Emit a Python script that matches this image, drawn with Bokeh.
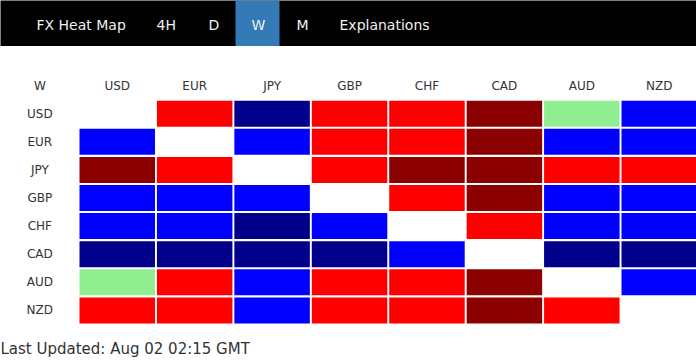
from bokeh.plotting import figure
from bokeh.models import Range1d, FactorRange, ColumnDataSource
from bokeh.layouts import column
from bokeh.core.properties import value
from bokeh.embed import file_html
from bokeh.resources import INLINE

# ---------------- data ----------------
menu_items = ["FX Heat Map", "4H", "D", "W", "M", "Explanations"]
active_item = "W"
timeframe = "W"
currencies = ["USD", "EUR", "JPY", "GBP", "CHF", "CAD", "AUD", "NZD"]

# strength levels: -2 strong down, -1 down, 0 neutral, 1 up, 2 strong up (None = same currency)
usd_row = [None, -1, 2, -1, -1, -2, 0, 1]
eur_row = [1, None, 1, -1, -1, -2, 1, 1]
jpy_row = [-2, -1, None, -1, -2, -2, -1, -1]
gbp_row = [1, 1, 1, None, -1, -2, 1, 1]
chf_row = [1, 1, 2, 1, None, -1, 1, 1]
cad_row = [2, 2, 2, 2, 1, None, 2, 2]
aud_row = [0, -1, 1, -1, -1, -2, None, 1]
nzd_row = [-1, -1, 1, -1, -1, -2, -1, None]
rows = [usd_row, eur_row, jpy_row, gbp_row, chf_row, cad_row, aud_row, nzd_row]

updated_text = "Last Updated: Aug 02 02:15 GMT"

palette = {-2: "#8B0000", -1: "#FF0000", 0: "#90EE90", 1: "#0000FF", 2: "#00008B"}

# ---------------- layout constants ----------------
FONT = value("DejaVu Sans")
W = 696
menu_left = [36, 156, 208, 251, 296, 339]
menu_box = {"W": (235, 279)}
PITCH = 77.43
X0 = 0.6


def bare(fig):
    fig.min_border_left = fig.min_border_right = 0
    fig.outline_line_color = None
    fig.xgrid.visible = False
    fig.ygrid.visible = False


# ---------------- header bar ----------------
hdr = figure(width=W, height=46, x_range=Range1d(0, 696), y_range=Range1d(46, 0),
             output_backend="svg", toolbar_location=None,
             x_axis_location=None, y_axis_location=None, min_border=0)
bare(hdr)
hdr.min_border_top = hdr.min_border_bottom = 0
hdr.background_fill_color = "black"
hdr.border_fill_color = "black"
bl, br = menu_box[active_item]
hdr.quad(left=[bl], right=[br], top=[0], bottom=[46], fill_color="#337AB7", line_color=None)
hdr.text(x=menu_left, y=[24.5] * len(menu_items), text=menu_items, text_font=FONT,
         text_font_size="14px", text_color="#F0F0F0", text_align="left",
         text_baseline="middle")

# ---------------- heat map grid ----------------
y_factors = list(reversed([timeframe] + currencies))
g = figure(width=W, height=286,
           x_range=Range1d(-X0 / PITCH, (696 - X0) / PITCH),
           y_range=FactorRange(factors=y_factors),
           output_backend="svg", toolbar_location=None,
           x_axis_location=None, y_axis_location=None)
bare(g)
g.min_border_top = 25
g.min_border_bottom = 8
g.background_fill_color = "white"
g.border_fill_color = "white"

cx, cy, cc = [], [], []
for r, cur in enumerate(currencies):
    for c, v in enumerate(rows[r]):
        if v is None:
            continue
        cx.append(c + 1.5)
        cy.append(cur)
        cc.append(palette[v])
src = ColumnDataSource(dict(x=cx, y=cy, color=cc))
g.rect(x="x", y="y", width=75.5 / PITCH, height=0.925, fill_color="color",
       line_color=None, source=src)

# column headers
g.text(x=[i + 1.5 for i in range(len(currencies))], y=[timeframe] * len(currencies),
       text=currencies, text_font=FONT, text_font_size="12px", text_color="#333333",
       text_align="center", text_baseline="middle")
# corner + row labels
g.text(x=[0.5] * (len(currencies) + 1), y=[timeframe] + currencies,
       text=[timeframe] + currencies, text_font=FONT, text_font_size="12px",
       text_color="#333333", text_align="center", text_baseline="middle")

# ---------------- footer ----------------
ftr = figure(width=W, height=28, x_range=Range1d(0, 696), y_range=Range1d(360, 332),
             output_backend="svg", toolbar_location=None,
             x_axis_location=None, y_axis_location=None, min_border=0)
bare(ftr)
ftr.min_border_top = ftr.min_border_bottom = 0
ftr.text(x=[0], y=[348], text=[updated_text], text_font=FONT, text_font_size="15px",
         text_color="#333333", text_align="left", text_baseline="middle")

layout = column(hdr, g, ftr, spacing=0)
open("out.html", "w").write(file_html(layout, INLINE))
